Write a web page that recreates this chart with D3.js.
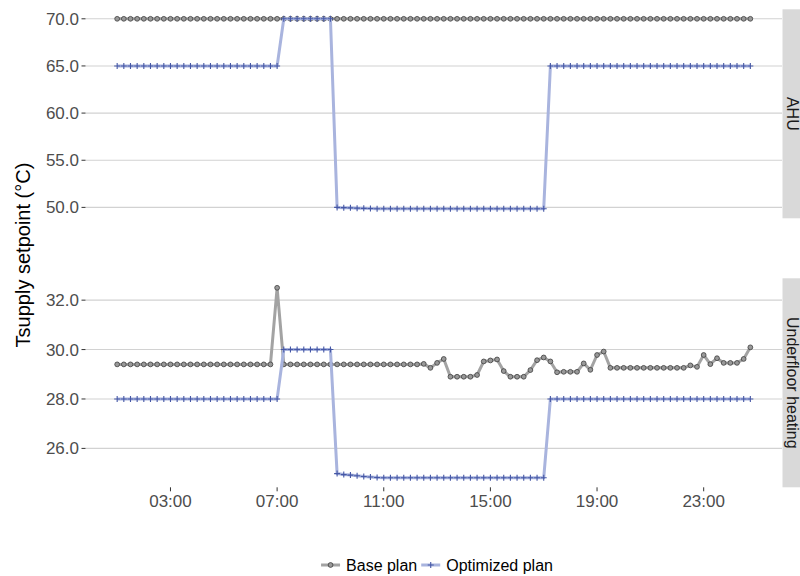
<!DOCTYPE html>
<html>
<head>
<meta charset="utf-8">
<script src="https://cdn.jsdelivr.net/npm/d3@7"></script>
<style>
  body { margin: 0; background: #fff; }
  svg { display: block; font-family: "Liberation Sans", Arial, Helvetica, sans-serif; }
</style>
</head>
<body>
<div id="chart"></div>
<script>
// 96 quarter-hour steps, first one at 01:00
const startTime = Date.UTC(2017, 0, 1, 1, 0);
const stepMinutes = 15;
const nSteps = 96;

const seriesNames = ['Base plan', 'Optimized plan'];
const panelNames = ['AHU', 'Underfloor heating'];

const ahuBase = [
  70, 70, 70, 70, 70, 70, 70, 70, 70, 70, 70, 70, 70, 70, 70, 70,
  70, 70, 70, 70, 70, 70, 70, 70, 70, 70, 70, 70, 70, 70, 70, 70,
  70, 70, 70, 70, 70, 70, 70, 70, 70, 70, 70, 70, 70, 70, 70, 70,
  70, 70, 70, 70, 70, 70, 70, 70, 70, 70, 70, 70, 70, 70, 70, 70,
  70, 70, 70, 70, 70, 70, 70, 70, 70, 70, 70, 70, 70, 70, 70, 70,
  70, 70, 70, 70, 70, 70, 70, 70, 70, 70, 70, 70, 70, 70, 70, 70
];

const ahuOpt = [
  65, 65, 65, 65, 65, 65, 65, 65, 65, 65, 65, 65, 65, 65, 65, 65,
  65, 65, 65, 65, 65, 65, 65, 65, 65,
  70, 70, 70, 70, 70, 70, 70, 70,
  50, 49.97, 49.95, 49.92, 49.9, 49.88, 49.86,
  49.85, 49.85, 49.85, 49.85, 49.85, 49.85, 49.85, 49.85, 49.85, 49.85,
  49.85, 49.85, 49.85, 49.85, 49.85, 49.85, 49.85, 49.85, 49.85, 49.85,
  49.85, 49.85, 49.85, 49.85, 49.85,
  65, 65, 65, 65, 65, 65, 65, 65, 65, 65, 65, 65, 65, 65, 65, 65,
  65, 65, 65, 65, 65, 65, 65, 65, 65, 65, 65, 65, 65, 65, 65
];

const ufhBase = [
  29.4, 29.4, 29.4, 29.4, 29.4, 29.4, 29.4, 29.4, 29.4, 29.4, 29.4, 29.4,
  29.4, 29.4, 29.4, 29.4, 29.4, 29.4, 29.4, 29.4, 29.4, 29.4, 29.4, 29.4,
  32.5,
  29.4, 29.4, 29.4, 29.4, 29.4, 29.4, 29.4, 29.4, 29.4, 29.4, 29.4,
  29.4, 29.4, 29.4, 29.4, 29.4, 29.4, 29.4, 29.4, 29.4, 29.4,
  29.42, 29.26, 29.46, 29.62,
  28.9, 28.9, 28.9, 28.9,
  28.97, 29.52, 29.56, 29.6, 29.13,
  28.9, 28.9, 28.9,
  29.17, 29.57, 29.68, 29.52, 29.08,
  29.1, 29.1, 29.1,
  29.44, 29.18, 29.78, 29.92,
  29.26, 29.26, 29.26, 29.26, 29.26, 29.26, 29.26, 29.26, 29.26, 29.26, 29.26, 29.26,
  29.36, 29.3, 29.78, 29.41, 29.65,
  29.46, 29.46, 29.46,
  29.62, 30.09
];

const ufhOpt = [
  28, 28, 28, 28, 28, 28, 28, 28, 28, 28, 28, 28, 28, 28, 28, 28,
  28, 28, 28, 28, 28, 28, 28, 28, 28,
  30, 30, 30, 30, 30, 30, 30, 30,
  24.98, 24.94, 24.92, 24.89, 24.86, 24.84, 24.82,
  24.81, 24.81, 24.81, 24.81, 24.81, 24.81, 24.81, 24.81, 24.81, 24.81,
  24.81, 24.81, 24.81, 24.81, 24.81, 24.81, 24.81, 24.81, 24.81, 24.81,
  24.81, 24.81, 24.81, 24.81, 24.81,
  28, 28, 28, 28, 28, 28, 28, 28, 28, 28, 28, 28, 28, 28, 28, 28,
  28, 28, 28, 28, 28, 28, 28, 28, 28, 28, 28, 28, 28, 28, 28
];

const ahuTicks = [50, 55, 60, 65, 70];
const ufhTicks = [26, 28, 30, 32];
const xTickHours = [3, 7, 11, 15, 19, 23];

window.Chart = window.Chart || {};

Chart.init = function() {
    Chart.setup.initConsts();
    Chart.setup.initSvg();
    Chart.setup.initScales();

    Chart.draw.panels();
    Chart.draw.xAxis();
    Chart.draw.yTitle();
    Chart.draw.legend();
};

Chart.setup = {
    initConsts: function() {
        Chart.width = 800;
        Chart.height = 576;

        Chart.left = 85.5;   // panel left edge
        Chart.right = 782;   // panel right edge / strip start

        Chart.times = d3.range(nSteps).map(i => new Date(startTime + i * stepMinutes * 60000));

        Chart.panels = [
            { name: panelNames[0], base: ahuBase, opt: ahuOpt, ticks: ahuTicks, top: 9.3, bottom: 218.3 },
            { name: panelNames[1], base: ufhBase, opt: ufhOpt, ticks: ufhTicks, top: 278.3, bottom: 487.3 }
        ];

        Chart.gridColor = '#d2d2d2';
        Chart.axisText = '#4d4d4d';
        Chart.baseLine = '#a3a3a3';
        Chart.baseFill = '#999999';
        Chart.baseStroke = '#3d3d3d';
        Chart.optLine = '#a9b4de';
        Chart.optPoint = '#4658a6';
    },

    initSvg: function() {
        Chart.svg = d3.select('#chart').append('svg')
                      .attr('width', Chart.width)
                      .attr('height', Chart.height);
    },

    initScales: function() {
        // ggplot style 5% expansion on both axes
        let tExt = d3.extent(Chart.times);
        let pad = (tExt[1] - tExt[0]) * 0.05;
        Chart.x = d3.scaleUtc()
                    .domain([new Date(+tExt[0] - pad), new Date(+tExt[1] + pad)])
                    .range([Chart.left, Chart.right]);

        Chart.panels.forEach(function(p) {
            let ext = d3.extent(p.base.concat(p.opt));
            let e = (ext[1] - ext[0]) * 0.05;
            p.y = d3.scaleLinear()
                    .domain([ext[0] - e, ext[1] + e])
                    .range([p.bottom, p.top]);
        });
    }
};

Chart.draw = {
    panels: function() {
        Chart.panels.forEach(function(p) {
            let g = Chart.svg.append('g');

            // grid
            g.selectAll('line.grid').data(p.ticks).join('line')
             .attr('x1', Chart.left).attr('x2', Chart.right)
             .attr('y1', d => p.y(d)).attr('y2', d => p.y(d))
             .attr('stroke', Chart.gridColor).attr('stroke-width', 1.1);

            // y axis ticks + labels
            g.selectAll('line.tk').data(p.ticks).join('line')
             .attr('x1', Chart.left - 4).attr('x2', Chart.left)
             .attr('y1', d => p.y(d)).attr('y2', d => p.y(d))
             .attr('stroke', '#333').attr('stroke-width', 1);
            g.selectAll('text.tl').data(p.ticks).join('text')
             .attr('x', Chart.left - 6.5).attr('y', d => p.y(d))
             .attr('text-anchor', 'end').attr('dy', '0.35em')
             .attr('font-size', 17).attr('fill', Chart.axisText)
             .text(d => d3.format('.1f')(d));

            // strip (runs off the right edge like the original)
            g.append('rect')
             .attr('x', Chart.right + 0.5).attr('y', p.top)
             .attr('width', 30).attr('height', p.bottom - p.top)
             .attr('fill', '#d9d9d9');
            g.append('text')
             .attr('transform', 'translate(' + (Chart.right + 5) + ',' + ((p.top + p.bottom) / 2) + ') rotate(90)')
             .attr('text-anchor', 'middle')
             .attr('font-size', 16).attr('fill', '#1a1a1a')
             .text(p.name);

            let line = function(vals) {
                return d3.line()
                         .x((d, i) => Chart.x(Chart.times[i]))
                         .y(d => p.y(d))(vals);
            };

            // base plan
            g.append('path').attr('d', line(p.base))
             .attr('fill', 'none').attr('stroke', Chart.baseLine)
             .attr('stroke-width', 3).attr('stroke-linejoin', 'round');
            g.selectAll('circle.bp').data(p.base).join('circle')
             .attr('cx', (d, i) => Chart.x(Chart.times[i]))
             .attr('cy', d => p.y(d))
             .attr('r', 2.4)
             .attr('fill', Chart.baseFill).attr('stroke', Chart.baseStroke)
             .attr('stroke-width', 0.8);

            // optimized plan
            g.append('path').attr('d', line(p.opt))
             .attr('fill', 'none').attr('stroke', Chart.optLine)
             .attr('stroke-width', 3).attr('stroke-linejoin', 'round');
            g.selectAll('path.op').data(p.opt).join('path')
             .attr('d', 'M-3,0H3M0,-3V3')
             .attr('transform', (d, i) => 'translate(' + Chart.x(Chart.times[i]) + ',' + p.y(d) + ')')
             .attr('stroke', Chart.optPoint).attr('stroke-width', 1.1)
             .attr('fill', 'none');
        });
    },

    xAxis: function() {
        let g = Chart.svg.append('g');
        let bottom = Chart.panels[1].bottom;
        let ticks = xTickHours.map(h => new Date(Date.UTC(2017, 0, 1, h, 0)));

        g.selectAll('line').data(ticks).join('line')
         .attr('x1', d => Chart.x(d)).attr('x2', d => Chart.x(d))
         .attr('y1', bottom).attr('y2', bottom + 4)
         .attr('stroke', '#333');
        g.selectAll('text').data(ticks).join('text')
         .attr('x', d => Chart.x(d)).attr('y', bottom + 20)
         .attr('text-anchor', 'middle')
         .attr('font-size', 17).attr('fill', Chart.axisText)
         .text(d => d3.utcFormat('%H:%M')(d));
    },

    yTitle: function() {
        Chart.svg.append('text')
             .attr('transform', 'translate(30,255) rotate(-90)')
             .attr('text-anchor', 'middle')
             .attr('font-size', 20).attr('fill', '#000')
             .text('Tsupply setpoint (°C)');
    },

    legend: function() {
        let g = Chart.svg.append('g');
        let y = 565;
        let keyW = 19;
        let x = 0;

        seriesNames.forEach(function(name, k) {
            let item = g.append('g').attr('transform', 'translate(' + x + ',0)');
            item.append('line')
                .attr('x1', 0).attr('x2', keyW).attr('y1', y).attr('y2', y)
                .attr('stroke', k === 0 ? Chart.baseLine : Chart.optLine)
                .attr('stroke-width', 3);
            if (k === 0) {
                item.append('circle').attr('cx', keyW / 2).attr('cy', y).attr('r', 2.4)
                    .attr('fill', Chart.baseFill).attr('stroke', Chart.baseStroke)
                    .attr('stroke-width', 0.8);
            } else {
                item.append('path').attr('d', 'M-3,0H3M0,-3V3')
                    .attr('transform', 'translate(' + keyW / 2 + ',' + y + ')')
                    .attr('stroke', Chart.optPoint).attr('stroke-width', 1.1);
            }
            let t = item.append('text')
                .attr('x', keyW + 6).attr('y', y).attr('dy', '0.35em')
                .attr('font-size', 16).attr('fill', '#000')
                .text(name);
            x += keyW + 6 + t.node().getComputedTextLength() + 4;
        });

        // centre the legend under the panels
        let total = x - 4;
        let cx = 437;
        g.attr('transform', 'translate(' + (cx - total / 2) + ',0)');
    }
};

document.addEventListener('DOMContentLoaded', Chart.init);
</script>
</body>
</html>
